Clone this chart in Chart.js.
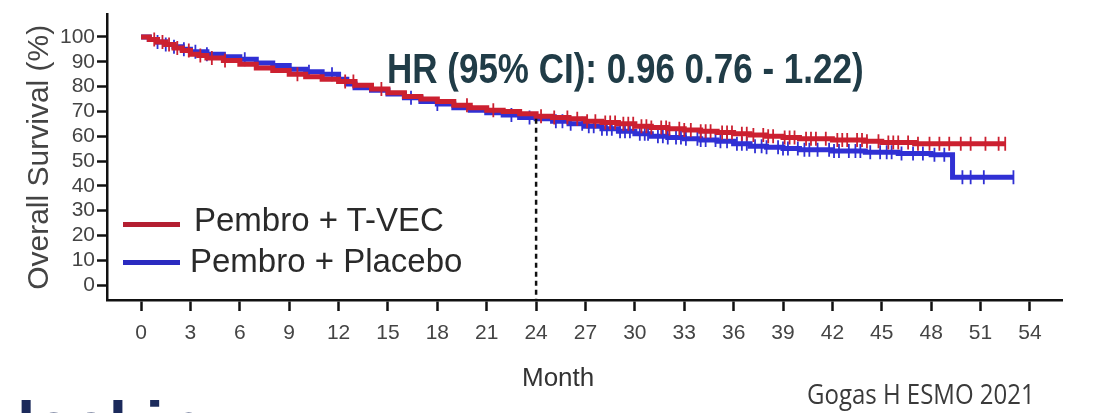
<!DOCTYPE html>
<html>
<head>
<meta charset="utf-8">
<script src="https://cdn.jsdelivr.net/npm/chart.js@4.4.1/dist/chart.umd.min.js"></script>
<style>
    body { margin: 0; background: #fff; }
    .wrap { position: relative; width: 1102px; height: 413px; overflow: hidden; font-family: "Liberation Sans", Arial, sans-serif; }
    canvas { position: absolute; left: 0; top: 0; }
    .txt { position: absolute; white-space: nowrap; line-height: 1; transform-origin: left top; }
    .hr { left: 387px; top: 47px; font-size: 35px; font-weight: bold; color: #203c47; transform: scaleY(1.2); }
    .leg { font-size: 33px; color: #2a2a2a; }
    .leg-line { position: absolute; left: 123px; width: 57px; height: 5px; }
    .month { left: 522px; top: 364px; font-size: 26px; color: #333; }
    .source { left: 807px; top: 380px; font-family: "Open Sans", sans-serif; font-size: 24px; color: #3a3a3a; transform: scaleY(1.12); }
    .cut { left: 17px; top: 392px; font-size: 66px; font-weight: bold; color: #1b2a5b; }
</style>
</head>
<body>
<div class="wrap">
    <canvas id="osChart" width="1102" height="413"></canvas>
    <div class="txt hr">HR (95% CI): 0.96 0.76 - 1.22)</div>
    <div class="leg-line" style="top: 222px; background: #b41f31;"></div>
    <div class="txt leg" style="left: 194px; top: 203px;">Pembro + T-VEC</div>
    <div class="leg-line" style="top: 260px; background: #2b2bc0;"></div>
    <div class="txt leg" style="left: 190px; top: 244px;">Pembro + Placebo</div>
    <div class="txt month">Month</div>
    <div class="txt source">Gogas H ESMO 2021</div>
    <div class="txt cut">lackin</div>
</div>
<script>
const xTicks = [0, 3, 6, 9, 12, 15, 18, 21, 24, 27, 30, 33, 36, 39, 42, 45, 48, 51, 54];
const yTicks = [0, 10, 20, 30, 40, 50, 60, 70, 80, 90, 100];

// Pembro + T-VEC (red), step curve
const tvecMonths = [0, 0.5, 1, 1.5, 2, 2.5, 3, 3.5, 4, 5, 6, 7, 8, 9, 10, 11, 12, 13, 14, 15, 16, 17, 18, 19, 20, 21, 22, 23, 24, 25, 26, 27, 28, 29, 30, 31, 32, 33, 34, 35, 36, 37, 38, 39, 40, 41, 42, 43, 44, 45, 46, 47, 48, 52.5];
const tvecSurv = [100, 99, 98, 97, 95.5, 94.5, 93, 92.5, 91.5, 90.5, 89, 87.5, 86.5, 85, 84, 83, 82, 80.5, 79, 77.5, 76, 75, 74, 72.5, 71.5, 70.5, 70, 69, 68, 67.5, 67, 66, 65.5, 65, 64, 63.5, 63, 62.5, 62, 61.5, 61, 60.5, 60, 59.5, 59, 59, 58.5, 58.5, 58, 57.5, 57.5, 57, 57, 57];
const tvecCensor = [0.8, 1.3, 1.7, 2.2, 2.9, 3.6, 4.3, 5.1, 9.5, 12.4, 12.9, 14.6, 19.8, 21.4, 24.3, 25.1, 25.9, 26.5, 27.1, 27.6, 28.2, 28.5, 28.8, 29.3, 29.6, 29.9, 30.4, 30.7, 31.0, 31.6, 31.9, 32.1, 32.7, 33.0, 33.4, 34.0, 34.3, 34.6, 35.3, 35.6, 35.9, 36.5, 36.8, 37.2, 37.8, 38.1, 38.4, 39.1, 39.4, 39.7, 40.4, 40.7, 41.0, 41.6, 42.3, 42.6, 42.9, 43.5, 43.8, 44.1, 44.8, 45.4, 45.7, 46.0, 46.6, 47.2, 47.9, 48.5, 49.1, 49.8, 50.4, 51.3, 52.1, 52.5];

// Pembro + Placebo (blue), step curve
const placeboMonths = [0, 0.5, 1, 1.5, 2, 2.5, 3, 4, 5, 6, 7, 8, 9, 10, 11, 12, 12.5, 13, 14, 15, 16, 17, 18, 19, 20, 21, 22, 23, 24, 25, 26, 27, 28, 29, 30, 31, 32, 33, 34, 35, 36, 37, 38, 39, 40, 42, 44, 46, 48, 49.3, 53];
const placeboSurv = [100, 99, 98, 97, 96, 95, 94, 93, 92, 91, 89.5, 88.5, 87, 86, 85, 83, 81, 79.5, 78.5, 77, 75.5, 74, 73, 71.5, 70.5, 69.5, 68.5, 67.5, 67, 66, 65, 64, 63, 62, 61, 60, 59.5, 59, 58.5, 58, 57, 56, 55.5, 55, 54.5, 54, 53.5, 53, 52.5, 43.5, 43.5];
const placeboCensor = [1.0, 1.5, 2.0, 2.6, 3.3, 4.0, 6.3, 10.2, 11.6, 16.4, 18.0, 22.5, 23.6, 25.2, 25.6, 26.1, 26.8, 27.2, 27.5, 28.0, 28.3, 28.6, 29.1, 29.4, 29.7, 30.3, 30.6, 30.8, 31.4, 31.7, 32.0, 32.5, 32.8, 33.1, 33.8, 34.0, 34.3, 34.9, 35.2, 35.6, 36.2, 36.5, 36.8, 37.3, 37.7, 38.0, 38.7, 39.0, 39.3, 39.9, 40.3, 40.6, 41.1, 41.8, 42.1, 42.4, 43.0, 43.4, 43.7, 44.3, 44.9, 45.3, 45.6, 46.2, 46.9, 47.5, 48.2, 48.8, 49.9, 50.4, 51.2, 53.0];

const landmarkMonth = 24;
const landmarkTop = 67;

const RED = "#cc2030";
const BLUE = "#3030d4";
const FONT = "'Liberation Sans', Arial, sans-serif";

function toPoints(months, surv) {
    return months.map(function (m, i) { return { x: m, y: surv[i] }; });
}

function survivalAt(months, surv, t) {
    let v = surv[0];
    for (let i = 0; i < months.length; i++) {
        if (months[i] <= t) {
            v = surv[i];
        }
    }
    return v;
}

function censorPoints(times, months, surv) {
    return times.map(function (t) { return { x: t, y: survivalAt(months, surv, t) }; });
}

function censorSet(data, color) {
    return {
        data: data,
        showLine: false,
        pointStyle: "line",
        pointRotation: 90,
        pointRadius: 7,
        pointBorderWidth: 1.8,
        pointBorderColor: color,
        pointBackgroundColor: color,
        borderColor: color
    };
}

new Chart(document.getElementById("osChart"), {
    type: "line",
    data: {
        datasets: [
            {
                data: [{ x: landmarkMonth, y: landmarkTop }, { x: landmarkMonth, y: -6 }],
                borderColor: "#111",
                borderWidth: 2.5,
                borderDash: [5, 4],
                pointRadius: 0
            },
            censorSet(censorPoints(tvecCensor, tvecMonths, tvecSurv), RED),
            {
                data: toPoints(tvecMonths, tvecSurv),
                borderColor: RED,
                borderWidth: 5,
                stepped: true,
                pointRadius: 0
            },
            censorSet(censorPoints(placeboCensor, placeboMonths, placeboSurv), BLUE),
            {
                data: toPoints(placeboMonths, placeboSurv),
                borderColor: BLUE,
                borderWidth: 5,
                stepped: true,
                pointRadius: 0
            }
        ]
    },
    options: {
        responsive: false,
        animation: false,
        layout: { padding: { top: 8, right: 40, bottom: 0, left: 0 } },
        plugins: { legend: { display: false }, tooltip: { enabled: false } },
        scales: {
            x: {
                type: "linear",
                min: -2.07,
                max: 55.95,
                afterBuildTicks: function (scale) {
                    scale.ticks = xTicks.map(function (v) { return { value: v }; });
                },
                afterFit: function (scale) { scale.height = 113; },
                grid: { drawOnChartArea: false, tickLength: 11, tickWidth: 2.5, tickColor: "#111" },
                border: { color: "#111", width: 2.5 },
                ticks: { color: "#444", font: { family: FONT, size: 21 }, padding: 10, maxRotation: 0, autoSkip: false }
            },
            y: {
                min: -6,
                max: 109,
                afterBuildTicks: function (scale) {
                    scale.ticks = yTicks.map(function (v) { return { value: v }; });
                },
                afterFit: function (scale) { scale.width = 107; },
                grid: { drawOnChartArea: false, tickLength: 10, tickWidth: 2.5, tickColor: "#111" },
                border: { color: "#111", width: 2.5 },
                ticks: { color: "#444", font: { family: FONT, size: 21 }, padding: 2, autoSkip: false },
                title: { display: true, text: "Overall Survival (%)", color: "#444", font: { family: FONT, size: 30 }, padding: { top: 22, bottom: 0 } }
            }
        }
    }
});
</script>
</body>
</html>
